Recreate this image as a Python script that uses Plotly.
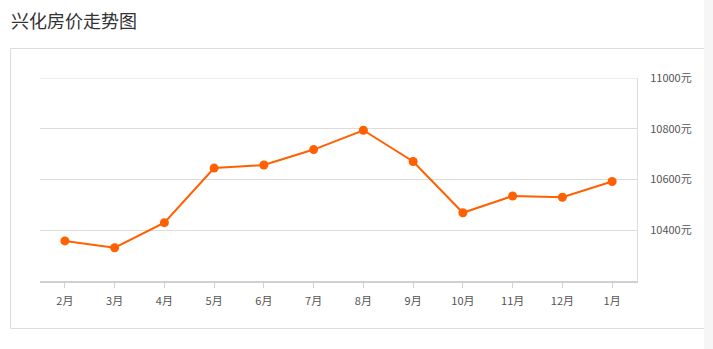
import plotly.graph_objects as go

months = ["2月", "3月", "4月", "5月", "6月", "7月", "8月", "9月", "10月", "11月", "12月", "1月"]
prices = [10358, 10331, 10430, 10645, 10657, 10718, 10794, 10671, 10469, 10535, 10530, 10592]
y_ticks = [10400, 10600, 10800, 11000]
y_tick_labels = [f"{v}元" for v in y_ticks]
title_text = "兴化房价走势图"

W, H = 713, 349
L, R, T, B = 40, 637, 78, 281
pw, ph = R - L, B - T

def px(x):
    return (x - L) / pw

def py(y):
    return (B - y) / ph

fig = go.Figure()
fig.add_trace(go.Scatter(
    x=months, y=prices, mode="lines+markers",
    line=dict(color="#ff6000", width=2),
    marker=dict(color="#ff6000", size=9),
    hoverinfo="x+y",
))

fig.update_layout(
    width=W, height=H,
    margin=dict(l=L, r=W - R, t=T, b=H - B, pad=0),
    paper_bgcolor="white", plot_bgcolor="white",
    showlegend=False,
    font=dict(family="Noto Sans CJK SC", color="#555", size=11),
    xaxis=dict(
        type="category", range=[-0.5, len(months) - 0.5],
        showgrid=False, zeroline=False,
        showline=True, linecolor="#d0d0d0", linewidth=2,
        ticks="outside", ticklen=5, tickcolor="#d0d0d0", tickwidth=1,
        tickfont=dict(size=11, color="#555"),
        ticklabelstandoff=4,
        fixedrange=True,
    ),
    yaxis=dict(
        side="right", range=[10200, 11000],
        tickvals=y_ticks, ticktext=y_tick_labels,
        showgrid=True, gridcolor="#dcdcdc", gridwidth=1,
        zeroline=False, showline=True, linecolor="#dddddd", linewidth=1,
        ticks="", ticklabelstandoff=10,
        tickfont=dict(size=11, color="#555"),
        fixedrange=True,
    ),
    shapes=[
        dict(type="rect", xref="paper", yref="paper", layer="below",
             x0=px(10.5), x1=px(730), y0=py(328.5), y1=py(48.5),
             line=dict(color="#dddddd", width=1), fillcolor="rgba(0,0,0,0)"),
        dict(type="line", xref="paper", yref="y", layer="below",
             x0=0, x1=1, y0=y_ticks[-1], y1=y_ticks[-1],
             line=dict(color="#dcdcdc", width=1)),
        dict(type="rect", xref="paper", yref="paper", layer="above",
             x0=px(704), x1=px(714), y0=py(350), y1=py(-1),
             line=dict(width=0), fillcolor="#f6f6f6"),
    ],
    annotations=[
        dict(text=title_text, xref="paper", yref="paper",
             x=px(9), y=py(20), xanchor="left", yanchor="middle",
             showarrow=False, font=dict(size=18, color="#333", family="Noto Sans CJK SC")),
    ],
)

fig.write_html("out.html")
